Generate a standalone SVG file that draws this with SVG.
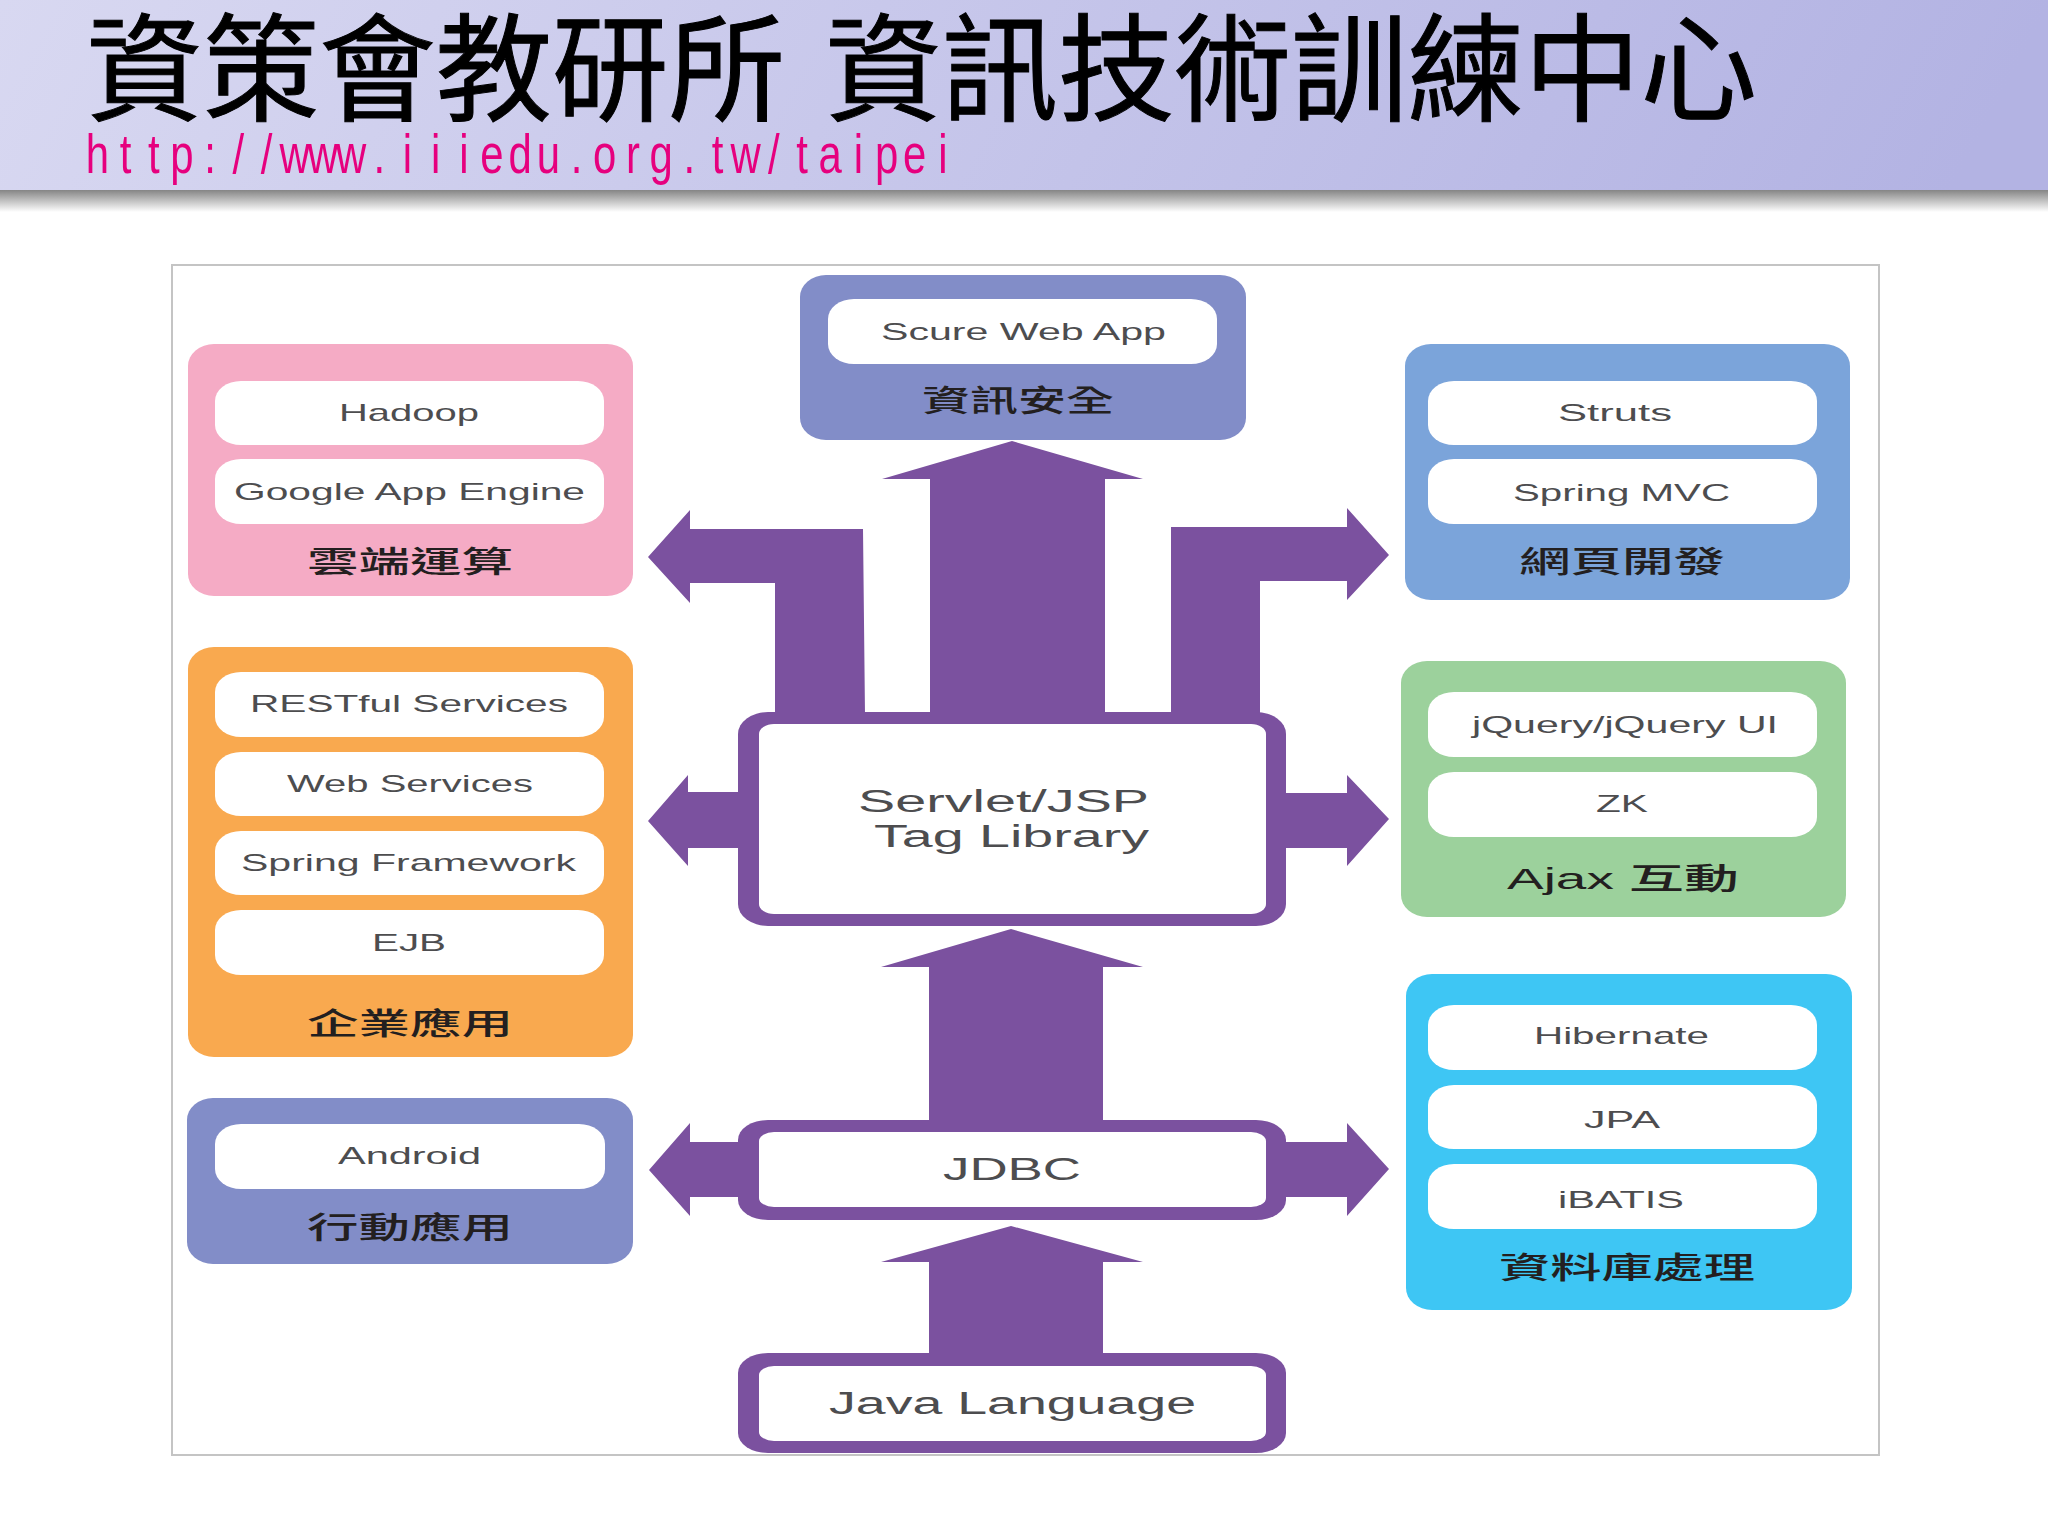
<svg xmlns="http://www.w3.org/2000/svg" width="2048" height="1536" viewBox="0 0 2048 1536">
<defs>
<linearGradient id="hdr" x1="0" y1="0" x2="1" y2="0.05"><stop offset="0" stop-color="#d8d8f1"/><stop offset="1" stop-color="#b3b3e3"/></linearGradient>
<linearGradient id="shd" x1="0" y1="0" x2="0" y2="1"><stop offset="0" stop-color="#858585"/><stop offset="1" stop-color="#ffffff"/></linearGradient>
</defs>
<style>
.item{fill:#fff}
.it{font-family:"Liberation Sans",Arial,sans-serif;font-size:24px;fill:#4d4d4f}
.big{font-family:"Liberation Sans",Arial,sans-serif;font-size:31px;fill:#4d4d4f}
.lb{font-family:"Liberation Sans","Noto Sans CJK TC",sans-serif;font-size:30px;font-weight:500;fill:#231f20}
.arrow{fill:#7b519f}
.box{fill:#7b519f}
.inner{fill:#fff}
</style>
<rect width="2048" height="1536" fill="#fff"/>
<g id="header">
<rect x="0" y="190" width="2048" height="22" fill="url(#shd)"/>
<rect x="0" y="0" width="2048" height="190" fill="url(#hdr)"/>
<text y="112" font-family="'Noto Sans CJK TC',sans-serif" font-size="116.5" fill="#000" stroke="#000" stroke-width="1"><tspan x="86">資策會教研所</tspan> <tspan x="825">資訊技術訓練中心</tspan></text>
<text transform="translate(97.4,173) scale(0.748,1)" x="-15.57 29.9 67.58 97.47 142.94 180.62 218.3 243.56 281.24 318.92 369.02 408.28 445.96 483.64 511.95 549.63 587.31 632.78 662.67 706.62 738.03 783.5 821.18 846.44 896.54 934.22 964.11 1011.16 1039.47 1077.15 1124.2" y="0" font-family="'Liberation Sans',Arial,sans-serif" font-size="56" fill="#e6007e">http://www.iiiedu.org.tw/taipei</text>
</g>
<rect id="frame" x="172" y="265" width="1707" height="1190" fill="#fff" stroke="#c4c4c4" stroke-width="2"/>
<g id="connectors">
<polygon class="arrow" points="1012,441 1143,479 1105,479 1105,715 930,715 930,479 882,479"/>
<polygon class="arrow" points="648,557 690,510 690,529 863,529 865,715 775,715 775,583 690,583 690,603"/>
<polygon class="arrow" points="1389,555 1347,508 1347,527 1171,527 1171,715 1260,715 1260,581 1347,581 1347,600"/>
<polygon class="arrow" points="648,821 688,775 688,792 745,792 745,848 688,848 688,866"/>
<polygon class="arrow" points="1389,819 1347,775 1347,793 1280,793 1280,848 1347,848 1347,866"/>
<polygon class="arrow" points="1011,929 1143,967 1103,967 1103,1125 929,1125 929,967 881,967"/>
<polygon class="arrow" points="649,1170 690,1123 690,1142 745,1142 745,1197 690,1197 690,1216"/>
<polygon class="arrow" points="1389,1169 1347,1123 1347,1142 1280,1142 1280,1197 1347,1197 1347,1216"/>
<polygon class="arrow" points="1011,1226 1143,1262 1103,1262 1103,1360 929,1360 929,1262 881,1262"/>
</g>
<g id="cloud">
<rect x="188" y="344" width="445" height="252" rx="26" ry="22" fill="#f5abc5"/>
<rect class="item" x="215" y="381" width="389" height="64" rx="26" ry="20"/>
<rect class="item" x="215" y="459" width="389" height="65" rx="26" ry="20"/>
<text class="it" x="339" y="421" textLength="140" lengthAdjust="spacingAndGlyphs">Hadoop</text>
<text class="it" x="234" y="500" textLength="351" lengthAdjust="spacingAndGlyphs">Google App Engine</text>
<text class="lb" x="307" y="572" textLength="206" lengthAdjust="spacingAndGlyphs">雲端運算</text>
</g>
<g id="enterprise">
<rect x="188" y="647" width="445" height="410" rx="26" ry="22" fill="#f9a94f"/>
<rect class="item" x="215" y="672" width="389" height="65" rx="26" ry="20"/>
<rect class="item" x="215" y="752" width="389" height="64" rx="26" ry="20"/>
<rect class="item" x="215" y="831" width="389" height="64" rx="26" ry="20"/>
<rect class="item" x="215" y="910" width="389" height="65" rx="26" ry="20"/>
<text class="it" x="250" y="712" textLength="318" lengthAdjust="spacingAndGlyphs">RESTful Services</text>
<text class="it" x="287" y="792" textLength="246" lengthAdjust="spacingAndGlyphs">Web Services</text>
<text class="it" x="241" y="871" textLength="335" lengthAdjust="spacingAndGlyphs">Spring Framework</text>
<text class="it" x="372" y="951" textLength="74" lengthAdjust="spacingAndGlyphs">EJB</text>
<text class="lb" x="307" y="1034" textLength="206" lengthAdjust="spacingAndGlyphs">企業應用</text>
</g>
<g id="mobile">
<rect x="187" y="1098" width="446" height="166" rx="26" ry="22" fill="#828dc8"/>
<rect class="item" x="215" y="1124" width="390" height="65" rx="26" ry="20"/>
<text class="it" x="338" y="1164" textLength="143" lengthAdjust="spacingAndGlyphs">Android</text>
<text class="lb" x="307" y="1238" textLength="206" lengthAdjust="spacingAndGlyphs">行動應用</text>
</g>
<g id="security">
<rect x="800" y="275" width="446" height="165" rx="26" ry="22" fill="#828dc8"/>
<rect class="item" x="828" y="299" width="389" height="65" rx="26" ry="20"/>
<text class="it" x="881" y="340" textLength="285" lengthAdjust="spacingAndGlyphs">Scure Web App</text>
<text class="lb" x="922" y="411" textLength="192" lengthAdjust="spacingAndGlyphs">資訊安全</text>
</g>
<g id="web">
<rect x="1405" y="344" width="445" height="256" rx="26" ry="22" fill="#7ba4da"/>
<rect class="item" x="1428" y="381" width="389" height="64" rx="26" ry="20"/>
<rect class="item" x="1428" y="459" width="389" height="65" rx="26" ry="20"/>
<text class="it" x="1558" y="421" textLength="114" lengthAdjust="spacingAndGlyphs">Struts</text>
<text class="it" x="1513" y="501" textLength="217" lengthAdjust="spacingAndGlyphs">Spring MVC</text>
<text class="lb" x="1519" y="572" textLength="206" lengthAdjust="spacingAndGlyphs">網頁開發</text>
</g>
<g id="ajax">
<rect x="1401" y="661" width="445" height="256" rx="26" ry="22" fill="#9cd19c"/>
<rect class="item" x="1428" y="692" width="389" height="65" rx="26" ry="20"/>
<rect class="item" x="1428" y="772" width="389" height="65" rx="26" ry="20"/>
<text class="it" x="1472" y="733" textLength="306" lengthAdjust="spacingAndGlyphs">jQuery/jQuery UI</text>
<text class="it" x="1596" y="812" textLength="52" lengthAdjust="spacingAndGlyphs">ZK</text>
<text class="lb" x="1507" y="889" textLength="232" lengthAdjust="spacingAndGlyphs">Ajax 互動</text>
</g>
<g id="database">
<rect x="1406" y="974" width="446" height="336" rx="26" ry="22" fill="#3ec6f4"/>
<rect class="item" x="1428" y="1005" width="389" height="65" rx="26" ry="20"/>
<rect class="item" x="1428" y="1085" width="389" height="64" rx="26" ry="20"/>
<rect class="item" x="1428" y="1164" width="389" height="65" rx="26" ry="20"/>
<text class="it" x="1534" y="1044" textLength="175" lengthAdjust="spacingAndGlyphs">Hibernate</text>
<text class="it" x="1584" y="1128" textLength="76" lengthAdjust="spacingAndGlyphs">JPA</text>
<text class="it" x="1558" y="1208" textLength="126" lengthAdjust="spacingAndGlyphs">iBATIS</text>
<text class="lb" x="1499" y="1278" textLength="256" lengthAdjust="spacingAndGlyphs">資料庫處理</text>
</g>
<g id="servlet">
<rect class="box" x="738" y="712" width="548" height="214" rx="30" ry="22"/>
<rect class="inner" x="759" y="724" width="507" height="190" rx="15" ry="10"/>
<text class="big" x="858" y="812" textLength="291" lengthAdjust="spacingAndGlyphs">Servlet/JSP</text>
<text class="big" x="874" y="847" textLength="275" lengthAdjust="spacingAndGlyphs">Tag Library</text>
</g>
<g id="jdbc">
<rect class="box" x="738" y="1120" width="548" height="100" rx="30" ry="20"/>
<rect class="inner" x="759" y="1132" width="507" height="75" rx="15" ry="9"/>
<text class="big" x="943" y="1180" textLength="138" lengthAdjust="spacingAndGlyphs">JDBC</text>
</g>
<g id="java">
<rect class="box" x="738" y="1353" width="548" height="100" rx="30" ry="20"/>
<rect class="inner" x="759" y="1366" width="507" height="75" rx="15" ry="9"/>
<text class="big" x="829" y="1414" textLength="367" lengthAdjust="spacingAndGlyphs">Java Language</text>
</g>
</svg>
